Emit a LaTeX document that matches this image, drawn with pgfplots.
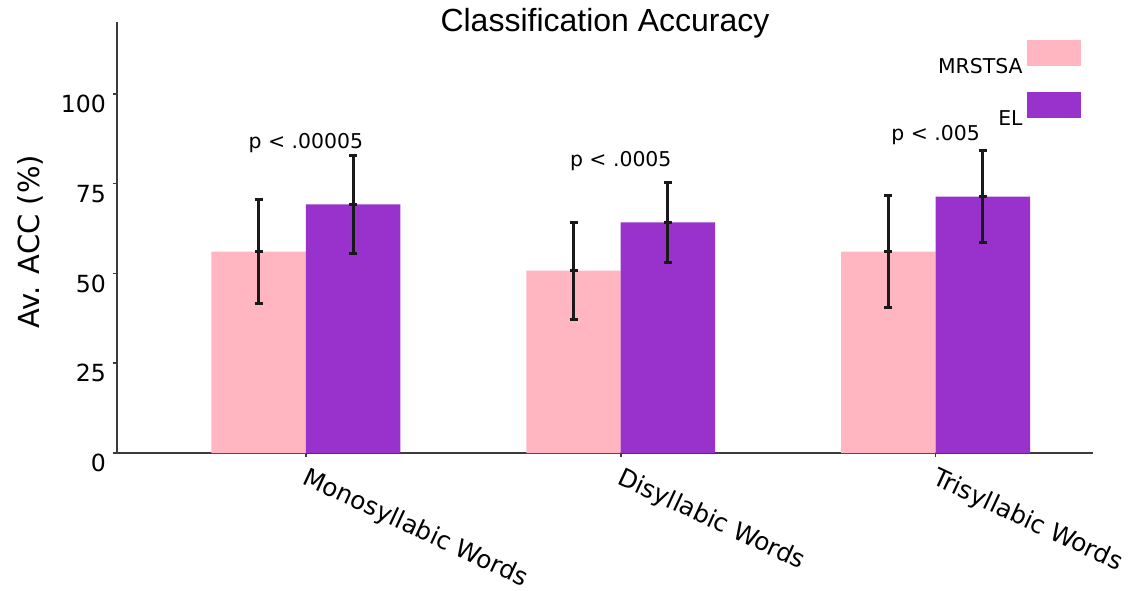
\documentclass[border=0pt]{standalone}
\usepackage{pgfplots}
\pgfplotsset{compat=1.18}
\usepackage{fontspec}
\setmainfont{DejaVu Sans}
\newfontfamily\titlefont{Liberation Sans}
\definecolor{mpink}{RGB}{255,182,193}
\definecolor{mpurple}{RGB}{153,50,204}
\definecolor{axgray}{RGB}{60,60,60}
\definecolor{errc}{RGB}{25,25,25}
\begin{document}
\begin{tikzpicture}
\useasboundingbox (-58.5pt,-68.5pt) rectangle (513.5pt,226.5pt);
\begin{axis}[
  at={(0,0)}, anchor=south west,
  scale only axis, width=488pt, height=215.5pt,
  xmin=-0.6, xmax=2.5, ymin=0, ymax=120,
  clip=false,
  axis x line*=bottom, axis y line*=left,
  axis line style={axgray, line width=0.8pt},
  ytick={0,25,50,75,100},
  xtick={0,1,2},
  xticklabels={Monosyllabic Words, Disyllabic Words, Trisyllabic Words},
  tick align=outside, major tick length=2pt,
  tick style={axgray, line width=0.8pt},
  /pgf/number format/assume math mode=true,
  yticklabel style={font=\fontsize{11.8}{14}\selectfont, yshift=-5pt},
  xticklabel style={font=\fontsize{12.4}{15}\selectfont, rotate=-25, anchor=north west},
  ylabel={Av. ACC (\%)},
  ylabel style={font=\fontsize{14.5}{17}\selectfont, at={(axis description cs:-0.089,0.49)}, anchor=center},
  ybar, bar width=0.3,
  legend plot pos=right,
  legend cell align=right,
  legend style={draw=none, fill=none, at={(1,1)}, anchor=north east, xshift=-6pt, yshift=-9pt, inner sep=0pt, row sep=6pt, font=\fontsize{10.2}{12}\selectfont},
]
\addplot[ybar, bar shift=0pt, fill=mpink, draw=none,
  mark=-, mark size=2pt, mark options={draw=errc, line width=1.5pt},
  legend image code/.code={\fill[mpink] (0pt,0.5pt) rectangle (27pt,13.5pt);},
  error bars/.cd, y dir=both, y explicit,
  error bar style={errc, line width=1.5pt},
  error mark options={errc, rotate=90, mark size=2pt, line width=1.5pt}]
  coordinates {(-0.15,56.1) +- (0,14.4) (0.85,50.8) +- (0,13.5) (1.85,56.1) +- (0,15.6)};
\addlegendentry{MRSTSA}
\addplot[ybar, bar shift=0pt, fill=mpurple, draw=none,
  mark=-, mark size=2pt, mark options={draw=errc, line width=1.5pt},
  legend image code/.code={\fill[mpurple] (0pt,0.5pt) rectangle (27pt,13.5pt);},
  error bars/.cd, y dir=both, y explicit,
  error bar style={errc, line width=1.5pt},
  error mark options={errc, rotate=90, mark size=2pt, line width=1.5pt}]
  coordinates {(0.15,69.2) +- (0,13.7) (1.15,64.2) +- (0,11.2) (2.15,71.4) +- (0,12.9)};
\addlegendentry{EL}
\node[font=\fontsize{10.2}{12}\selectfont, anchor=base] at (axis cs:0,84.7) {p < .00005};
\node[font=\fontsize{10.2}{12}\selectfont, anchor=base] at (axis cs:1,79.7) {p < .0005};
\node[font=\fontsize{10.2}{12}\selectfont, anchor=base] at (axis cs:2,86.9) {p < .005};
\node[font=\titlefont\fontsize{16}{19}\selectfont, anchor=base] at (rel axis cs:0.5,0.977) {Classification Accuracy};
\end{axis}
\end{tikzpicture}
\end{document}
